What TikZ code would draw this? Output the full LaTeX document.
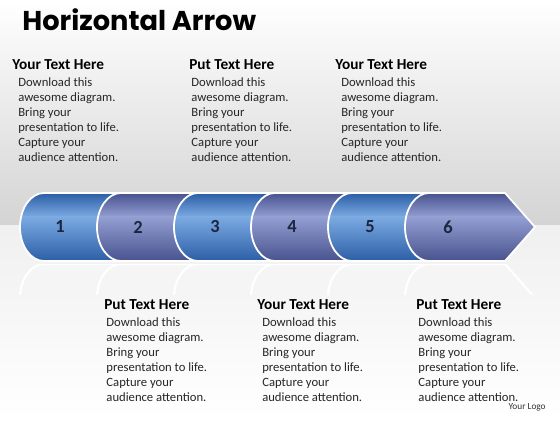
\documentclass[tikz,border=0pt]{standalone}
\usepackage{fontspec}
\setmainfont{Carlito}
\newfontfamily\titlefont{Poppins}
\usetikzlibrary{positioning}

\definecolor{bluedark}{HTML}{2C5EA6}
\definecolor{bluelight}{HTML}{7BAAE2}
\definecolor{violetdark}{HTML}{48528E}
\definecolor{violetlight}{HTML}{939ED2}
\definecolor{numtext}{HTML}{1C2640}

\begin{document}
\begin{tikzpicture}[x=0.02cm, y=0.02cm, node distance=0pt,
    heading/.style={font=\fontsize{8.7}{10}\selectfont\bfseries, inner sep=0pt, anchor=west, text depth=0.25em},
    bodytext/.style={font=\fontsize{7.2}{8.6}\selectfont, align=left, inner sep=0pt, text=black!85},
    number/.style={font=\fontsize{10.5}{12}\selectfont\bfseries, text=numtext},
    outline/.style={draw=white, line width=1pt}]

    \useasboundingbox (0,0) rectangle (560,420);
    % Background
    \shade[top color=white, bottom color=black!17] (0,420) rectangle (560,195);
    \shade[top color=black!6, bottom color=white] (0,195) rectangle (560,0);

    % Reflection of the arrow
    \begin{scope}
        \clip (0,156) rectangle (560,126);
        \foreach \i/\cl in {0/bluelight,1/violetlight,2/bluelight,3/violetlight,4/bluelight} {
            \pgfmathsetmacro\xa{20+77*\i}
            \begin{scope}
                \clip (\xa+24,156) arc[start angle=90, end angle=270, x radius=24, y radius=34]
                    -- (\xa+101,88) -- (\xa+101,156) -- cycle;
                \shade[top color=\cl!40!black!5, bottom color=black!4] (\xa,156) rectangle (\xa+101,126);
            \end{scope}
            \draw[draw=white, line width=1.2pt] (\xa+101,156) -- (\xa+24,156)
                arc[start angle=90, end angle=270, x radius=24, y radius=34];
        }
        \begin{scope}
            \clip (429,156) arc[start angle=90, end angle=270, x radius=24, y radius=34]
                -- (505,88) -- (535,122) -- (505,156) -- cycle;
            \shade[top color=violetlight!40!black!5, bottom color=black!4] (405,156) rectangle (535,126);
        \end{scope}
        \draw[draw=white, line width=1.2pt] (429,156) arc[start angle=90, end angle=270, x radius=24, y radius=34];
        \draw[draw=white, line width=1.2pt] (429,156) -- (505,156) -- (535,122);
    \end{scope}

    % Arrow segments
    \foreach \i/\cd/\cl in {0/bluedark/bluelight,1/violetdark/violetlight,2/bluedark/bluelight,3/violetdark/violetlight,4/bluedark/bluelight} {
        \pgfmathsetmacro\xa{20+77*\i}
        \begin{scope}
            \clip (\xa+24,227) arc[start angle=90, end angle=270, x radius=24, y radius=34]
                -- (\xa+101,159) -- (\xa+101,227) -- cycle;
            \shade[top color=\cd, bottom color=\cl] (\xa,227) rectangle (\xa+101,203);
            \shade[top color=\cl, bottom color=\cd] (\xa,203.1) rectangle (\xa+101,159);
        \end{scope}
        \draw[outline] (\xa+101,227) -- (\xa+24,227)
            arc[start angle=90, end angle=270, x radius=24, y radius=34] -- (\xa+101,159);
    }
    \begin{scope}
        \clip (429,227) arc[start angle=90, end angle=270, x radius=24, y radius=34]
            -- (505,159) -- (535,193) -- (505,227) -- cycle;
        \shade[top color=violetdark, bottom color=violetlight] (405,227) rectangle (536,203);
        \shade[top color=violetlight, bottom color=violetdark] (405,203.1) rectangle (536,159);
    \end{scope}
    \draw[outline] (429,227) arc[start angle=90, end angle=270, x radius=24, y radius=34]
        -- (505,159) -- (535,193) -- (505,227) -- cycle;

    % Numbers
    \node[number] (n1) at (60,193) {1};
    \node[number] (n2) at (138,193) {2};
    \node[number] (n3) at (215,193) {3};
    \node[number] (n4) at (292,193) {4};
    \node[number] (n5) at (370,193) {5};
    \node[number] (n6) at (448,193) {6};

    % Title
    \node[anchor=west, inner sep=0pt, font=\titlefont\fontsize{15.5}{18}\selectfont\bfseries] (title) at (22,400) {Horizontal Arrow};

    % Text above the arrow
    \node[heading] (h1) at (12,353) {Your Text Here};
    \node[bodytext, below right=1.4pt and 3.4pt of h1.south west] (b1) {Download this\\awesome diagram.\\Bring your\\presentation to life.\\Capture your\\audience attention.};
    \node[heading] (h2) at (189,353) {Put Text Here};
    \node[bodytext, below right=1.4pt and 1.2pt of h2.south west] (b2) {Download this\\awesome diagram.\\Bring your\\presentation to life.\\Capture your\\audience attention.};
    \node[heading] (h3) at (335,353) {Your Text Here};
    \node[bodytext, below right=1.4pt and 3.4pt of h3.south west] (b3) {Download this\\awesome diagram.\\Bring your\\presentation to life.\\Capture your\\audience attention.};

    % Text below the arrow
    \node[heading] (h4) at (104,113) {Put Text Here};
    \node[bodytext, below right=1.4pt and 1.2pt of h4.south west] (b4) {Download this\\awesome diagram.\\Bring your\\presentation to life.\\Capture your\\audience attention.};
    \node[heading] (h5) at (257,113) {Your Text Here};
    \node[bodytext, below right=1.4pt and 2.8pt of h5.south west] (b5) {Download this\\awesome diagram.\\Bring your\\presentation to life.\\Capture your\\audience attention.};
    \node[heading] (h6) at (416,113) {Put Text Here};
    \node[bodytext, below right=1.4pt and 1.2pt of h6.south west] (b6) {Download this\\awesome diagram.\\Bring your\\presentation to life.\\Capture your\\audience attention.};

    \node[anchor=east, inner sep=0pt, font=\fontsize{5.3}{6}\selectfont, text=black!80] (logo) at (546,13) {Your Logo};
\end{tikzpicture}
\end{document}
